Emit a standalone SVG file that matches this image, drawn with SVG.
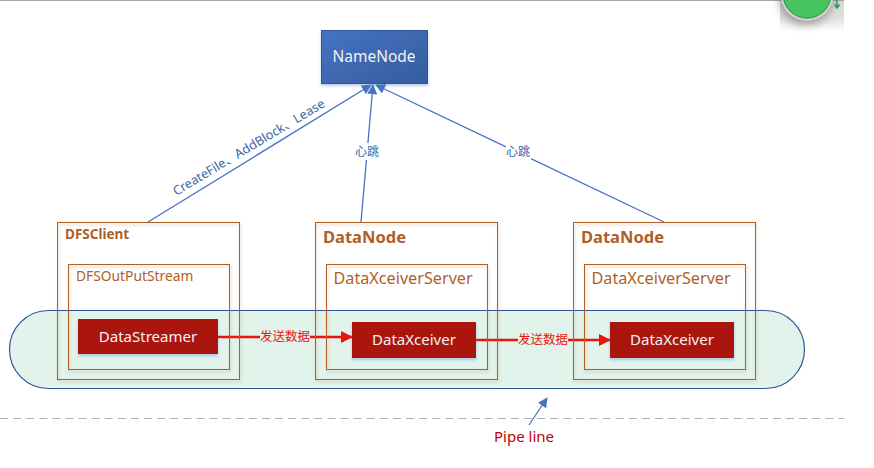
<svg xmlns="http://www.w3.org/2000/svg" width="874" height="468" viewBox="0 0 874 468">
<style>
text{font-family:"Noto Sans","Noto Sans CJK SC",sans-serif}
.box{fill:none;stroke:#ae5f28;stroke-width:1;filter:url(#sh)}
.red{fill:#aa120b;filter:url(#sb)}
.w{fill:#f2f2f2;font-size:15px;text-anchor:middle}
.b{fill:#ae5f28;font-weight:700}
.o{fill:#ae5f28}
.bl{stroke:#4472c4;stroke-width:1.3;fill:none}
.rl{stroke:#e8140f;stroke-width:2.5;fill:none}
.lb{fill:#3a64a8;font-size:12px;text-anchor:middle}
.rt{fill:#e8140f;font-size:12.500px;text-anchor:middle}
</style>
<defs>
<linearGradient id="nn" x1="0" y1="0" x2="1" y2="1"><stop offset="0" stop-color="#4673c2"/><stop offset="1" stop-color="#355d9e"/></linearGradient>
<linearGradient id="pn" x1="0" y1="0" x2="0" y2="1"><stop offset="0" stop-color="#d4d4d4"/><stop offset=".6" stop-color="#e2e2e2"/><stop offset="1" stop-color="#ffffff"/></linearGradient>
<filter id="sh" x="-5%" y="-5%" width="110%" height="110%"><feDropShadow dx="1" dy="2" stdDeviation="1.500" flood-color="#ae5a21" flood-opacity=".35"/></filter>
<filter id="sb" x="-10%" y="-10%" width="120%" height="125%"><feDropShadow dx="0" dy="2" stdDeviation="1.500" flood-color="#4472c4" flood-opacity=".35"/></filter>
<filter id="sc" x="-30%" y="-30%" width="160%" height="170%"><feDropShadow dx="-1" dy="4" stdDeviation="5" flood-color="#000" flood-opacity=".35"/></filter>
<marker id="ab" viewBox="0 0 10 10" refX="9" refY="5" markerWidth="11" markerHeight="10" markerUnits="userSpaceOnUse" orient="auto"><path d="M0 0L10 5L0 10z" fill="#4472c4"/></marker>
<marker id="ar" viewBox="0 0 12 12" refX="11" refY="6" markerWidth="12" markerHeight="12" markerUnits="userSpaceOnUse" orient="auto"><path d="M0 0L12 6L0 12z" fill="#e8140f"/></marker>
</defs>
<rect width="874" height="468" fill="#fff"/>
<rect width="844" height="1" fill="#a8a8a8"/>
<g id="corner"><rect x="780" y="1" width="64" height="30" fill="url(#pn)"/>
<circle cx="807" cy="-6" r="25.500" fill="#46c35f" stroke="#d0d0d0" stroke-width="2" filter="url(#sc)"/>
<circle cx="807" cy="-6" r="24" fill="none" stroke="#2e9a4e" stroke-width="1"/>
<path d="M837 0V7M834.500 4.500L837 8L839.500 4.500" stroke="#2e9a4e" stroke-width="1.500" fill="none"/></g>
<g id="pipeline"><rect x="9.500" y="310.500" width="795" height="78" rx="39" ry="39" fill="#e2f3ec" stroke="#2f5597" stroke-width="1.200"/></g>
<line x1="0" y1="418.500" x2="844" y2="418.500" stroke="#b0b0b0" stroke-width="1" stroke-dasharray="8 5.100"/>
<g id="connectors">
<line class="bl" x1="148" y1="222" x2="371" y2="85" marker-end="url(#ab)"/>
<line class="bl" x1="361" y1="222" x2="373" y2="85" marker-end="url(#ab)"/>
<line class="bl" x1="664" y1="222" x2="376" y2="85" marker-end="url(#ab)"/>
<line class="bl" x1="529" y1="425" x2="547" y2="398" marker-end="url(#ab)"/>
<line class="rl" x1="218" y1="337" x2="352" y2="337" marker-end="url(#ar)"/>
<line class="rl" x1="476" y1="340" x2="610" y2="340" marker-end="url(#ar)"/>
</g>
<g id="namenode"><rect x="321.500" y="30.500" width="106" height="53" fill="url(#nn)" stroke="#2f5597" filter="url(#sb)"/><text x="374" y="62" text-anchor="middle" font-size="15.500" fill="#f2f2f2">NameNode</text></g>
<g id="dfsclient"><rect class="box" x="57.500" y="222.500" width="182" height="157"/><text class="b" x="65" y="239" font-size="13.500">DFSClient</text></g>
<g id="dfsoutputstream"><rect class="box" x="68.500" y="264.500" width="161" height="105"/><text class="o" x="76" y="281" font-size="13.800">DFSOutPutStream</text></g>
<g id="datastreamer"><rect class="red" x="78" y="319" width="140" height="35"/><text class="w" x="148" y="342">DataStreamer</text></g>
<g id="datanode1"><rect class="box" x="315.500" y="222.500" width="182" height="157"/><text class="b" x="323" y="243" font-size="16.500">DataNode</text></g>
<g id="server1"><rect class="box" x="326.500" y="264.500" width="161" height="105"/><text class="o" x="333.500" y="284" font-size="16.200">DataXceiverServer</text></g>
<g id="xceiver1"><rect class="red" x="352" y="322" width="124" height="36"/><text class="w" x="414" y="345">DataXceiver</text></g>
<g id="datanode2"><rect class="box" x="573.500" y="222.500" width="182" height="157"/><text class="b" x="581" y="243" font-size="16.500">DataNode</text></g>
<g id="server2"><rect class="box" x="584.500" y="264.500" width="161" height="105"/><text class="o" x="591.500" y="284" font-size="16.200">DataXceiverServer</text></g>
<g id="xceiver2"><rect class="red" x="610" y="322" width="124" height="36"/><text class="w" x="672" y="345">DataXceiver</text></g>
<g id="labels">
<text class="lb" x="251" y="151" transform="rotate(-31 251 151)" style="font-size:12.700px">CreateFile、AddBlock、Lease</text>
<rect x="355" y="143" width="25" height="17" fill="#fff"/><text class="lb" x="367" y="156">心跳</text>
<rect x="506" y="143" width="25" height="17" fill="#fff"/><text class="lb" x="518" y="156">心跳</text>
<rect x="260" y="329" width="50" height="16" fill="#e2f3ec"/><text class="rt" x="285" y="341">发送数据</text>
<rect x="518" y="332" width="50" height="16" fill="#e2f3ec"/><text class="rt" x="543" y="344">发送数据</text>
<text x="524" y="442" text-anchor="middle" font-size="15" fill="#c00000">Pipe line</text>
</g>
</svg>
